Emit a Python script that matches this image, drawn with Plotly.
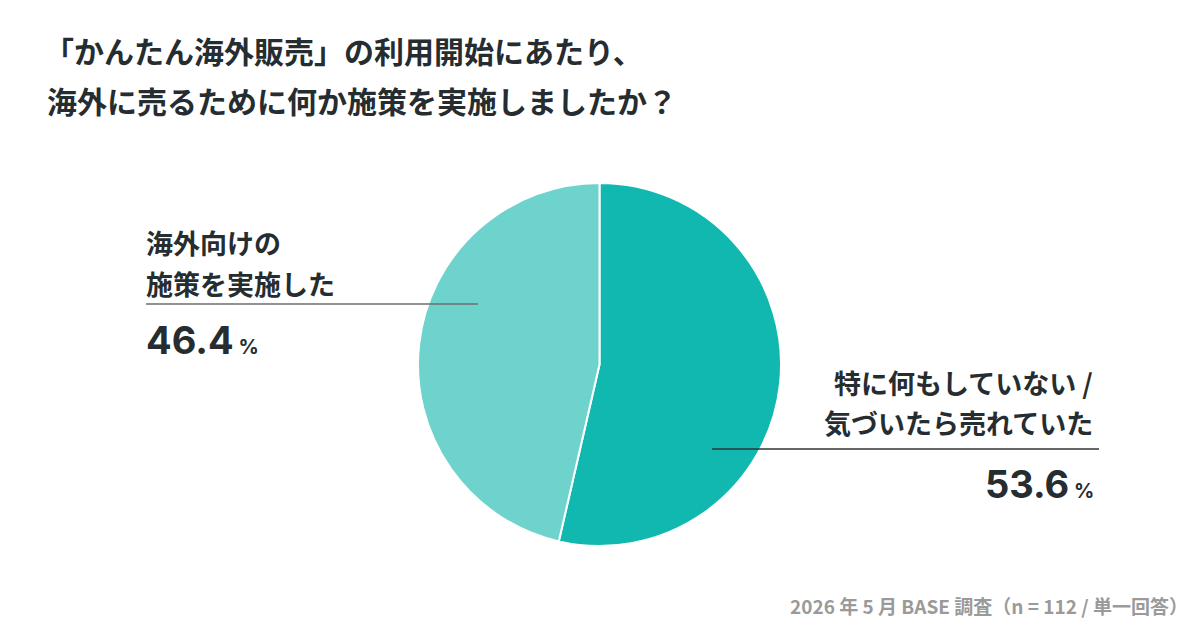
import plotly.graph_objects as go

# ---- data ----
categories = ["特に何もしていない /<br>気づいたら売れていた", "海外向けの<br>施策を実施した"]
values = [53.6, 46.4]
colors = ["#10B8AF", "#6FD3CD"]
title_lines = ["「かんたん海外販売」の利用開始にあたり、", "海外に売るために何か施策を実施しましたか？"]
footer = "2026 年 5 月 BASE 調査（n = 112 / 単一回答）"

W, H = 1200, 630
FONT = "Noto Sans CJK JP"
NUMFONT = "Inter"
DARK = "#262D31"

def px(x):
    return x / W

def py(y):
    return 1 - y / H

fig = go.Figure(go.Pie(
    labels=categories,
    values=values,
    sort=False,
    direction="clockwise",
    rotation=0,
    marker=dict(colors=colors, line=dict(color="white", width=2)),
    textinfo="none",
    hoverinfo="label+percent",
    showlegend=False,
    domain=dict(x=[px(418), px(781)], y=[py(546), py(183)]),
))

ann = []
# title
for i, t in enumerate(title_lines):
    ann.append(dict(text=t, x=px(42 if i == 0 else 45), y=py(50 + i * 50), xref="paper", yref="paper",
                    xanchor="left", yanchor="middle", showarrow=False,
                    font=dict(family=FONT, size=30, color=DARK, weight=700)))

# left label
left_lines = categories[1].split("<br>")
for i, t in enumerate(left_lines):
    ann.append(dict(text=t, x=px(144), y=py(243 + i * 40), xref="paper", yref="paper",
                    xanchor="left", yanchor="middle", showarrow=False,
                    font=dict(family=FONT, size=27, color=DARK, weight=700)))
ann.append(dict(text=f"{values[1]:.1f}<span style='font-size:20px'> %</span>",
                x=px(144), y=py(340), xref="paper", yref="paper",
                xanchor="left", yanchor="middle", showarrow=False,
                font=dict(family=NUMFONT, size=38, color=DARK, weight=700)))

# right label
right_lines = categories[0].split("<br>")
for i, t in enumerate(right_lines):
    ann.append(dict(text=t, x=px(1095), y=py(383 + i * 40), xref="paper", yref="paper",
                    xanchor="right", yanchor="middle", showarrow=False,
                    font=dict(family=FONT, size=27, color=DARK, weight=700)))
ann.append(dict(text=f"{values[0]:.1f}<span style='font-size:20px'> %</span>",
                x=px(1096), y=py(484), xref="paper", yref="paper",
                xanchor="right", yanchor="middle", showarrow=False,
                font=dict(family=NUMFONT, size=38, color=DARK, weight=700)))

# footer
ann.append(dict(text=footer, x=px(1190), y=py(605), xref="paper", yref="paper",
                xanchor="right", yanchor="middle", showarrow=False,
                font=dict(family=FONT, size=19, color="#9A9A9A", weight=700)))

shapes = [
    dict(type="line", xref="paper", yref="paper", x0=px(146), x1=px(478), y0=py(304), y1=py(304),
         line=dict(color="#6E6E6E", width=1.5)),
    dict(type="line", xref="paper", yref="paper", x0=px(712), x1=px(1099), y0=py(449), y1=py(449),
         line=dict(color="#2E3538", width=1.5)),
]

fig.update_layout(
    width=W, height=H,
    margin=dict(l=0, r=0, t=0, b=0),
    paper_bgcolor="white", plot_bgcolor="white",
    annotations=ann, shapes=shapes,
    font=dict(family=FONT),
)

fig.write_html("out.html")
